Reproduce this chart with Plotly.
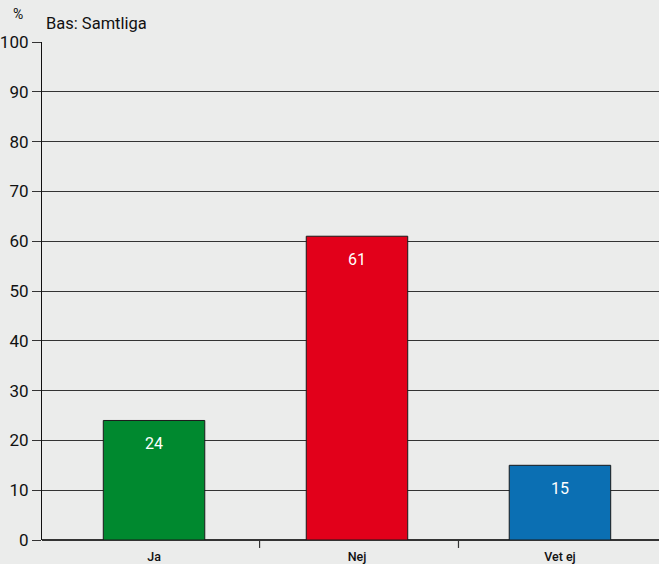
import plotly.graph_objects as go

categories = ["Ja", "Nej", "Vet ej"]
values = [24, 61, 15]
colors = ["#00892f", "#e2001a", "#0b6fb3"]
y_ticks = [0, 10, 20, 30, 40, 50, 60, 70, 80, 90, 100]

xpos = list(range(len(categories)))

fig = go.Figure()
fig.add_trace(go.Bar(
    x=xpos, y=values, width=0.5,
    marker=dict(color=colors, line=dict(color="#1a1a1a", width=1)),
    hoverinfo="skip",
))

for xi, v in zip(xpos, values):
    fig.add_annotation(x=xi, y=v, text=str(v), showarrow=False, yshift=-23,
                       font=dict(color="white", size=16, family="Roboto"))

# category separator ticks
for b in [0.52, 1.5]:
    fig.add_shape(type="line", xref="x", yref="paper", x0=b, x1=b, y0=0, y1=-0.016,
                  line=dict(color="#333", width=1.2))

fig.add_annotation(xref="paper", yref="paper", x=-0.05, y=1.036, xanchor="left", yanchor="bottom",
                   text="%", showarrow=False, font=dict(size=14, color="#111", family="Roboto"))
fig.add_annotation(xref="paper", yref="paper", x=0.004, y=1.015, xanchor="left", yanchor="bottom",
                   text="Bas: Samtliga", showarrow=False, font=dict(size=16.5, color="#111", family="Roboto"))

fig.update_layout(
    width=659, height=564,
    margin=dict(l=42, r=0, t=42, b=24),
    paper_bgcolor="#ebeceb", plot_bgcolor="#ebeceb",
    showlegend=False,
    font=dict(family="Roboto", color="#111"),
    xaxis=dict(range=[-0.552, 2.488], tickvals=xpos, ticktext=categories,
               showgrid=False, zeroline=False, showline=False, ticks="",
               tickfont=dict(size=12.5, color="#111", weight=500), ticklabelstandoff=7),
    yaxis=dict(range=[0, 100], tickvals=y_ticks, showgrid=True, gridcolor="#333333", gridwidth=1.3,
               zeroline=True, zerolinecolor="#333333", zerolinewidth=1.5,
               showline=True, linecolor="#111", linewidth=1.2,
               ticks="outside", ticklen=9, tickcolor="#333", tickwidth=1.2,
               tickfont=dict(size=17, color="#111"), ticklabelstandoff=0),
)

fig.write_html("out.html", config={"displayModeBar": False},
               post_script="document.body.style.margin='0';document.body.style.overflow='hidden';")
